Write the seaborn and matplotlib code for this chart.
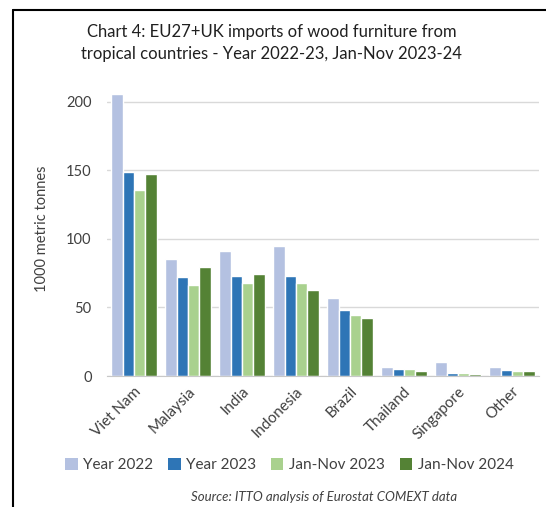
import matplotlib
matplotlib.use('Agg')
import matplotlib.pyplot as plt
import pandas as pd
import seaborn as sns
from matplotlib.lines import Line2D
from matplotlib.patches import Patch

countries = ['Viet Nam', 'Malaysia', 'India', 'Indonesia', 'Brazil', 'Thailand', 'Singapore', 'Other']
series = ['Year 2022', 'Year 2023', 'Jan-Nov 2023', 'Jan-Nov 2024']
year_2022 = [205.5, 85.3, 90.9, 94.8, 56.7, 6.3, 10.4, 6.3]
year_2023 = [148.8, 72.2, 73.2, 73.2, 48.0, 5.3, 2.4, 4.6]
jan_nov_2023 = [135.8, 66.2, 68.1, 68.1, 44.8, 4.8, 2.5, 3.9]
jan_nov_2024 = [147.2, 79.8, 74.7, 63.0, 42.6, 3.4, 1.7, 3.6]

colors = ['#B4C1E1', '#2E75B6', '#A9D18E', '#548235']

df = pd.DataFrame({
    'country': countries * 4,
    'series': [s for s in series for _ in countries],
    'value': year_2022 + year_2023 + jan_nov_2023 + jan_nov_2024,
})

sns.set_style('white')
plt.rcParams['font.family'] = ['Lato', 'DejaVu Sans']

fig = plt.figure(figsize=(5.46, 5.07), dpi=100)
ax = fig.add_axes([107/546, 1 - 376/507, 432/546, (376 - 81)/507])

sns.barplot(data=df, x='country', y='value', hue='series', palette=colors,
            width=0.85, gap=0, ax=ax, legend=False, saturation=1)

ax.set_ylim(0, 215)
ax.set_xlim(-0.5, 7.5)
ax.set_yticks([0, 50, 100, 150, 200])
ax.yaxis.grid(True, color='#D9D9D9', linewidth=1)
ax.set_axisbelow(True)
for s in ['top', 'right', 'left']:
    ax.spines[s].set_visible(False)
ax.spines['bottom'].set_color('#C8C8C8')
ax.tick_params(axis='both', length=0, labelsize=10.5, colors='#404040')
ax.tick_params(axis='y', pad=11)
plt.setp(ax.get_xticklabels(), rotation=45, ha='right', rotation_mode='anchor')
ax.tick_params(axis='x', pad=6, labelsize=11)
ax.set_xlabel('')
ax.set_ylabel('1000 metric tonnes', fontsize=10.5, color='#404040', labelpad=12)

fig.text(0.497, 1 - 43/507, 'Chart 4: EU27+UK imports of wood furniture from\ntropical countries - Year 2022-23, Jan-Nov 2023-24',
         ha='center', va='center', fontsize=12, color='#202020', linespacing=1.45)

handles = [Patch(facecolor=c, edgecolor='none') for c in colors]
fig.legend(handles, series, loc='center', bbox_to_anchor=(0.53, 1 - 465/507), ncol=4,
           frameon=False, fontsize=11, handlelength=0.8, handleheight=0.8,
           handletextpad=0.35, columnspacing=1.0, labelcolor='#404040')

fig.text(0.593, 1 - 497/507, 'Source: ITTO analysis of Eurostat COMEXT data',
         ha='center', va='center', fontsize=9.5, style='italic', color='#404040')

# frame lines on top and left
fig.add_artist(Line2D([13/546, 13/546], [0, 1 - 10/507], color='black', linewidth=1.5))
fig.add_artist(Line2D([13/546, 1], [1 - 10/507, 1 - 10/507], color='black', linewidth=1.5))

fig.savefig('out.png', dpi=100)
